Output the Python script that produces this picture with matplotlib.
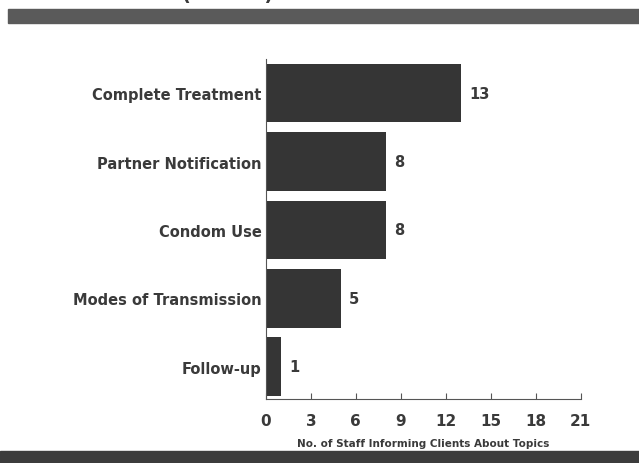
import matplotlib.pyplot as plt
from matplotlib.patches import Rectangle

# data
topics = ['Complete Treatment', 'Partner Notification', 'Condom Use',
          'Modes of Transmission', 'Follow-up']
staff_counts = [13, 8, 8, 5, 1]
x_ticks = [0, 3, 6, 9, 12, 15, 18, 21]

plt.rcParams['font.family'] = ['DejaVu Sans']
plt.rcParams['font.weight'] = 'bold'

fig = plt.figure(figsize=(6.39, 4.64), dpi=100)
ax = fig.add_axes([0.416, 0.138, 0.493, 0.733])

ypos = list(range(len(topics)))[::-1]
bar_color = '#353535'
text_color = '#3a3a3a'
ax.barh(ypos, staff_counts, height=0.86, color=bar_color, edgecolor='none')

for y, v in zip(ypos, staff_counts):
    ax.text(v + 0.55, y, str(v), va='center', ha='left', fontsize=10.5,
            fontweight='bold', color=text_color)

ax.set_xlim(0, 21)
ax.set_ylim(-0.47, 4.5)
ax.set_xticks(x_ticks)
ax.set_xticklabels([str(t) for t in x_ticks], fontsize=11, fontweight='bold', color=text_color)
ax.set_yticks(ypos)
ax.set_yticklabels(topics, fontsize=10.5, fontweight='bold', color=text_color)
ax.tick_params(axis='y', length=0, pad=3)
ax.tick_params(axis='x', direction='in', length=4, width=0.8, colors='#555555', pad=10,
               labelcolor=text_color)
ax.set_xlabel('No. of Staff Informing Clients About Topics', fontsize=7.5,
              fontweight='bold', color=text_color, labelpad=7)

for s in ['top', 'right']:
    ax.spines[s].set_visible(False)
ax.spines['left'].set_color('#555555')
ax.spines['bottom'].set_color('#555555')
ax.spines['left'].set_linewidth(0.8)
ax.spines['bottom'].set_linewidth(0.8)

# dark bands top and bottom of the slide
fig.patches.append(Rectangle((8 / 639, 1 - 24 / 464), 1, 14 / 464, transform=fig.transFigure,
                             color='#5a5a5a', zorder=0))
fig.patches.append(Rectangle((0, 0), 1, 12 / 464, transform=fig.transFigure,
                             color='#3c3c3c', zorder=0))

# title cut off at top edge, as in the scan
fig.text(228 / 639, 1 + 0.012, '(N = 21)', ha='center', va='center', fontsize=14,
         fontweight='bold', color=text_color)

plt.savefig('out.png')
